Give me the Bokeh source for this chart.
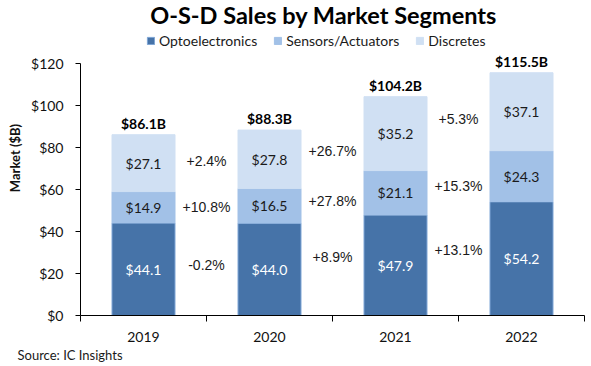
from bokeh.plotting import figure
from bokeh.models import (Range1d, FixedTicker, NumeralTickFormatter, Label, LabelSet,
                          Legend, LegendItem, ColumnDataSource, Title)
from bokeh.core.properties import value
from bokeh.embed import file_html
from bokeh.resources import INLINE

# ---- data ----
years = ["2019", "2020", "2021", "2022"]
opto = [44.1, 44.0, 47.9, 54.2]
sensors = [14.9, 16.5, 21.1, 24.3]
discretes = [27.1, 27.8, 35.2, 37.1]
totals = [86.1, 88.3, 104.2, 115.5]
growth_opto = ["-0.2%", "+8.9%", "+13.1%"]
growth_sensors = ["+10.8%", "+27.8%", "+15.3%"]
growth_discretes = ["+2.4%", "+26.7%", "+5.3%"]
y_ticks = [0, 20, 40, 60, 80, 100, 120]

# ---- layout values (label heights in data units) ----
growth_y_opto = [24.1, 27.9, 31.2]
growth_y_sensors = [51.8, 54.6, 61.6]
growth_y_discretes = [73.8, 78.5, 93.5]

C_OPTO = "#4673a8"
C_SENS = "#a2c1e7"
C_DISC = "#d0e0f3"
SEG_FONT = "Lato"
PCT_FONT = "Liberation Sans"

xc = [i + 0.5 for i in range(len(years))]
s_bottom = opto
s_top = [o + s for o, s in zip(opto, sensors)]
d_top = [t + d for t, d in zip(s_top, discretes)]

p = figure(width=588, height=362, output_backend="svg", toolbar_location=None,
           x_range=Range1d(0, 4), y_range=Range1d(0, 150),
           min_border_left=80, min_border_right=4, min_border_top=0, min_border_bottom=42)
p.outline_line_color = None
p.grid.visible = False

r_opto = p.vbar(x=xc, top=opto, bottom=0, width=0.5, fill_color=C_OPTO,
                line_color="#7fa6d6", line_width=1)
r_sens = p.vbar(x=xc, top=s_top, bottom=s_bottom, width=0.5, fill_color=C_SENS,
                line_color=C_SENS, line_width=1)
r_disc = p.vbar(x=xc, top=d_top, bottom=s_top, width=0.5, fill_color=C_DISC,
                line_color=C_DISC, line_width=1)

# axes
xa = p.xaxis[0]
xa.ticker = FixedTicker(ticks=xc, minor_ticks=[0, 1, 2, 3, 4])
xa.major_label_overrides = {x: y for x, y in zip(xc, years)}
xa.major_tick_out = 0
xa.major_tick_in = 0
xa.minor_tick_out = 6
xa.minor_tick_in = 0
xa.major_label_standoff = 10
xa.major_label_text_font = SEG_FONT
xa.major_label_text_font_size = "14px"
xa.major_label_text_color = "#111111"
xa.axis_line_color = "black"
xa.minor_tick_line_color = "black"

ya = p.yaxis[0]
ya.bounds = (0, 120)
ya.ticker = FixedTicker(ticks=y_ticks, minor_ticks=[])
ya.formatter = NumeralTickFormatter(format="$0")
ya.major_tick_out = 5
ya.major_tick_in = 0
ya.major_label_standoff = 12
ya.major_label_text_font = SEG_FONT
ya.major_label_text_font_size = "14px"
ya.major_label_text_color = "#111111"
ya.axis_line_color = "black"
ya.major_tick_line_color = "black"
ya.axis_label = "Market ($B)"
ya.axis_label_text_font = SEG_FONT
ya.axis_label_text_font_style = "bold"
ya.axis_label_text_font_size = "13px"
ya.axis_label_standoff = 5
ya.axis_label_text_color = "#111111"

# segment labels
def seg_labels(ys, vals, color):
    src = ColumnDataSource(dict(x=xc, y=ys, t=["$%.1f" % v for v in vals]))
    p.add_layout(LabelSet(x="x", y="y", text="t", source=src, text_align="center",
                          text_baseline="middle", text_font=value(SEG_FONT),
                          text_font_size=value("14px"), text_color=value(color)))

seg_labels([o / 2 for o in opto], opto, "white")
seg_labels([(a + b) / 2 for a, b in zip(s_bottom, s_top)], sensors, "#1a1a1a")
seg_labels([(a + b) / 2 for a, b in zip(s_top, d_top)], discretes, "#1a1a1a")

# totals
tsrc = ColumnDataSource(dict(x=xc, y=d_top, t=["$%.1fB" % v for v in totals]))
p.add_layout(LabelSet(x="x", y="y", text="t", source=tsrc, text_align="center",
                      text_baseline="bottom", y_offset=3, text_font=value(SEG_FONT),
                      text_font_style=value("bold"), text_font_size=value("14px"),
                      text_color=value("black")))

# growth labels
gx = [1, 2, 3]
for ys, labels in [(growth_y_opto, growth_opto), (growth_y_sensors, growth_sensors),
                   (growth_y_discretes, growth_discretes)]:
    src = ColumnDataSource(dict(x=gx, y=ys, t=labels))
    p.add_layout(LabelSet(x="x", y="y", text="t", source=src, text_align="center",
                          text_baseline="middle", text_font=value(PCT_FONT),
                          text_font_size=value("14px"), text_color=value("#1a1a1a")))

# title
p.add_layout(Label(x=1.929, y=143, text="O-S-D Sales by Market Segments",
                   text_align="center", text_baseline="middle", text_font=SEG_FONT,
                   text_font_style="bold", text_font_size="23.5px", text_color="black"))

# source
p.add_layout(Title(text="Source: IC Insights", align="left", offset=-63, standoff=0,
                   text_font=SEG_FONT, text_font_style="normal", text_font_size="13px",
                   text_color="#1a1a1a"), "below")

# legend
legend = Legend(items=[LegendItem(label="Optoelectronics", renderers=[r_opto]),
                       LegendItem(label="Sensors/Actuators", renderers=[r_sens]),
                       LegendItem(label="Discretes", renderers=[r_disc])],
                orientation="horizontal", location=(66, 266),
                glyph_width=9, glyph_height=9, label_height=16, label_standoff=4,
                spacing=16, padding=0, margin=0,
                label_text_font=SEG_FONT, label_text_font_size="14px",
                label_text_color="#1a1a1a",
                border_line_alpha=0, background_fill_alpha=0)
p.add_layout(legend, "center")

open("out.html", "w").write(file_html(p, INLINE))
